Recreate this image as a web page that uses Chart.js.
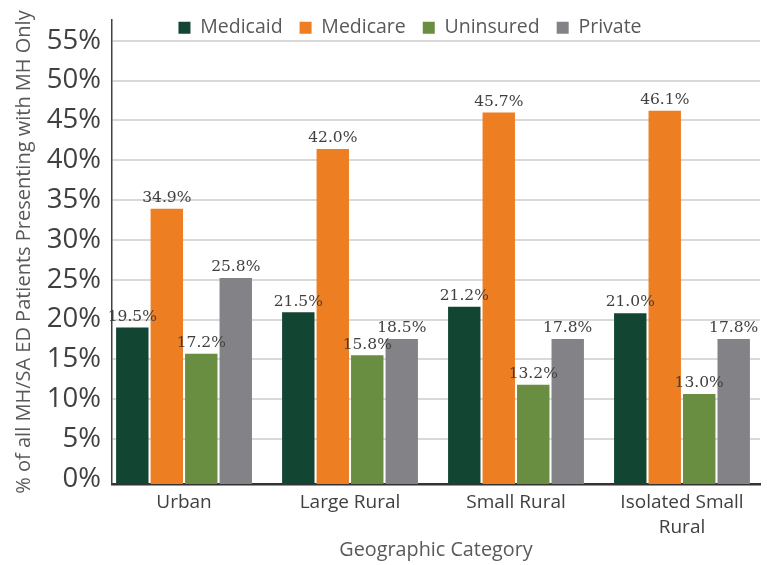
<!DOCTYPE html>
<html>
<head>
<meta charset="utf-8">
<script src="https://cdn.jsdelivr.net/npm/chart.js@4"></script>
<style>
  html, body { margin: 0; padding: 0; background: #ffffff; }
  #wrap { width: 767px; height: 565px; }
</style>
</head>
<body>
<div id="wrap"><canvas id="c" width="767" height="565"></canvas></div>
<script>
// ---- data ----
const categories = ['Urban', 'Large Rural', 'Small Rural', ['Isolated Small', 'Rural']];
const seriesNames = ['Medicaid', 'Medicare', 'Uninsured', 'Private'];
const medicaid  = [19.0, 20.9, 21.6, 20.8];
const medicare  = [33.9, 41.4, 46.0, 46.2];
const uninsured = [15.7, 15.5, 11.8, 10.65];
const privateIns = [25.2, 17.55, 17.55, 17.55];
const medicaidLabels  = ['19.5%', '21.5%', '21.2%', '21.0%'];
const medicareLabels  = ['34.9%', '42.0%', '45.7%', '46.1%'];
const uninsuredLabels = ['17.2%', '15.8%', '13.2%', '13.0%'];
const privateLabels   = ['25.8%', '18.5%', '17.8%', '17.8%'];
const yTickValues = [0, 5, 10, 15, 20, 25, 30, 35, 40, 45, 50, 55];

// ---- styles ----
const seriesColors = ['#124532', '#EE7E22', '#698D41', '#838387'];
const seriesValues = [medicaid, medicare, uninsured, privateIns];
const seriesLabels = [medicaidLabels, medicareLabels, uninsuredLabels, privateLabels];

const datasets = seriesNames.map((name, s) => ({
  label: name,
  data: seriesValues[s].map((v, i) => ({ x: i, y: v })),
  backgroundColor: seriesColors[s],
  borderWidth: 0,
  base: -0.65,
  categoryPercentage: 0.831,
  barPercentage: 0.94
}));

const valueLabelPlugin = {
  id: 'valueLabels',
  afterDatasetsDraw(chart) {
    const ctx = chart.ctx;
    ctx.save();
    ctx.font = '15.5px "DejaVu Serif"';
    ctx.fillStyle = '#404040';
    ctx.textAlign = 'center';
    ctx.textBaseline = 'bottom';
    chart.data.datasets.forEach((ds, s) => {
      const meta = chart.getDatasetMeta(s);
      meta.data.forEach((el, i) => {
        ctx.fillText(seriesLabels[s][i], el.x, el.y - 3);
      });
    });
    ctx.restore();
  }
};

const legendShiftPlugin = {
  id: 'legendShift',
  afterLayout(chart) {
    const lg = chart.legend;
    if (!lg) return;
    const top = chart.chartArea.top - 19;
    lg.left += 30; lg.right += 30; lg.width = lg.right - lg.left;
    lg.top = top; lg.bottom = top + 45; lg.height = 45;
  }
};

new Chart(document.getElementById('c'), {
  type: 'bar',
  data: { datasets },
  plugins: [valueLabelPlugin, legendShiftPlugin],
  options: {
    responsive: false,
    animation: false,
    devicePixelRatio: 1,
    layout: { padding: { top: 19, right: 7, bottom: 0, left: 0 } },
    plugins: {
      tooltip: { enabled: false },
      legend: {
        position: 'top',
        maxHeight: 1,
        labels: {
          boxWidth: 12,
          boxHeight: 12,
          padding: 17,
          color: '#595959',
          font: { family: 'Open Sans', size: 19.5 }
        }
      }
    },
    scales: {
      x: {
        type: 'linear',
        min: -0.434,
        max: 3.47,
        offset: false,
        grid: { display: false, drawTicks: false },
        border: { display: true, color: '#333333', width: 2.5 },
        afterBuildTicks: (scale) => { scale.ticks = categories.map((c, i) => ({ value: i })); },
        afterFit: (scale) => { scale.height = 81; },
        ticks: {
          autoSkip: false,
          maxRotation: 0,
          padding: 6.6,
          color: '#404040',
          font: { family: 'Open Sans', size: 19, lineHeight: 1.3 },
          callback: (v) => categories[v]
        },
        title: {
          display: true,
          text: 'Geographic Category',
          color: '#595959',
          font: { family: 'Open Sans', size: 19.8, lineHeight: 1.2 },
          padding: { top: 0, bottom: 3.2 }
        }
      },
      y: {
        type: 'linear',
        min: -0.65,
        max: 57.6,
        afterBuildTicks: (scale) => { scale.ticks = yTickValues.map(v => ({ value: v })); },
        afterFit: (scale) => { scale.width = 112; scale.paddingTop = 0; scale.paddingBottom = 0; },
        grid: {
          drawTicks: false,
          lineWidth: 2,
          color: (c) => (c.tick && c.tick.value === 0) ? 'rgba(0,0,0,0)' : '#d9d9d9'
        },
        border: { display: true, color: '#404040', width: 1.5 },
        ticks: {
          padding: 11,
          color: '#404040',
          font: { family: 'Open Sans', size: 27.5, lineHeight: 1.0 },
          callback: (v) => v + '%'
        },
        title: {
          display: true,
          text: '% of all MH/SA ED Patients Presenting with MH Only',
          color: '#595959',
          font: { family: 'Open Sans', size: 20, lineHeight: 1.2 },
          padding: { top: 12, bottom: 0 }
        }
      }
    }
  }
});
</script>
</body>
</html>
